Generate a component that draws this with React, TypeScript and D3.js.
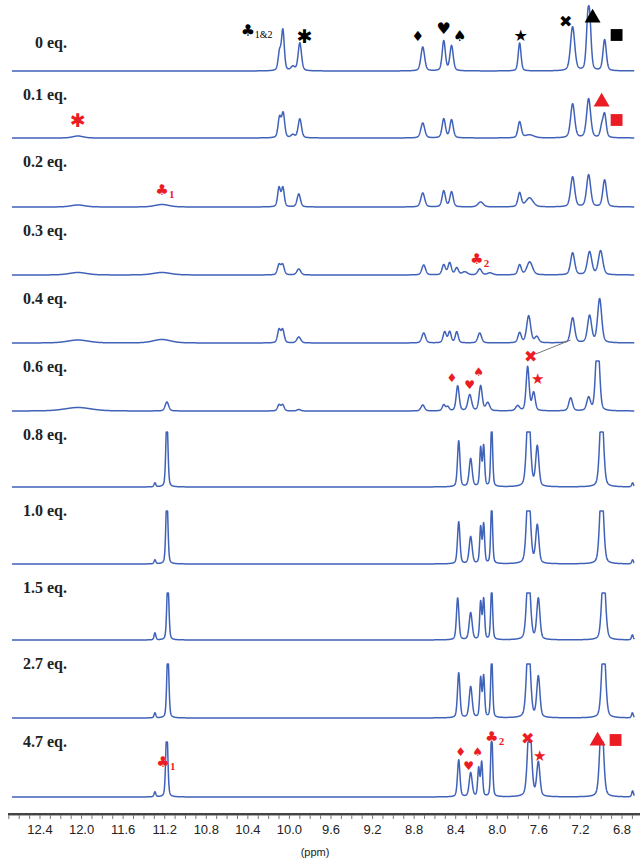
import React from 'react';
import * as d3 from 'd3';

// ---- data ----
const tickValues = [12.4, 12.0, 11.6, 11.2, 10.8, 10.4, 10.0, 9.6, 9.2, 8.8, 8.4, 8.0, 7.6, 7.2, 6.8];
const rowLabels = ['0 eq.', '0.1 eq.', '0.2 eq.', '0.3 eq.', '0.4 eq.', '0.6 eq.', '0.8 eq.', '1.0 eq.', '1.5 eq.', '2.7 eq.', '4.7 eq.'];

type Peak = [number, number, number]; // ppm, height, half width (ppm)
const peaks00: Peak[] = [
  [10.095, 18, 0.016], [10.063, 40, 0.016], [9.967, 4, 0.022], [9.9, 28, 0.019],
  [8.717, 24, 0.021], [8.515, 30, 0.018], [8.44, 25, 0.019], [7.785, 28, 0.016],
  [7.275, 44, 0.024], [7.13, 42, 0.017], [7.11, 42, 0.017], [6.967, 31, 0.019],
];
const peaks01: Peak[] = [
  [12.035, 2, 0.06], [10.095, 20, 0.017], [10.06, 24, 0.017], [9.967, 3, 0.02], [9.9, 19, 0.019],
  [8.717, 15, 0.022], [8.515, 19, 0.019], [8.44, 18, 0.019], [7.785, 16, 0.019], [7.69, 3, 0.05],
  [7.275, 34, 0.023], [7.121, 39, 0.023], [6.967, 23, 0.018], [6.995, 10, 0.017],
];
const peaks02: Peak[] = [
  [12.035, 2, 0.08], [11.227, 2.5, 0.08], [10.1, 19, 0.016], [10.063, 19, 0.016], [9.91, 13, 0.019],
  [8.717, 14, 0.022], [8.515, 16, 0.019], [8.44, 15, 0.019], [8.16, 5, 0.03], [7.785, 14, 0.019],
  [7.69, 9, 0.04], [7.275, 30, 0.023], [7.121, 32, 0.023], [6.967, 27, 0.021],
];
const peaks03: Peak[] = [
  [12.035, 2.5, 0.1], [11.227, 2.5, 0.1], [10.1, 10, 0.018], [10.065, 10, 0.018], [9.91, 6, 0.022],
  [8.708, 10, 0.021], [8.515, 10, 0.019], [8.458, 12, 0.019], [8.39, 7, 0.019], [8.313, 3, 0.03],
  [8.169, 6, 0.022], [8.07, 2, 0.03], [7.785, 10, 0.019], [7.688, 13, 0.032], [7.275, 22, 0.023],
  [7.112, 23, 0.025], [7.006, 24, 0.025],
];
const peaks04: Peak[] = [
  [12.035, 3, 0.12], [11.227, 3.5, 0.1], [10.1, 13, 0.017], [10.065, 13, 0.017], [9.91, 6, 0.022],
  [8.708, 10, 0.021], [8.506, 11, 0.018], [8.458, 11, 0.017], [8.39, 11, 0.017], [8.169, 10, 0.021],
  [7.785, 10, 0.019], [7.698, 27, 0.023], [7.62, 6, 0.022], [7.275, 25, 0.023], [7.112, 27, 0.023],
  [7.015, 44, 0.023],
];
const peaks06: Peak[] = [
  [12.035, 3.5, 0.15], [11.179, 9, 0.02], [10.1, 6, 0.017], [10.065, 6, 0.017], [9.91, 1.5, 0.02],
  [8.717, 6, 0.02], [8.515, 6, 0.017], [8.477, 4, 0.017], [8.381, 25, 0.017], [8.265, 16, 0.021],
  [8.16, 25, 0.018], [8.092, 8, 0.022], [7.804, 5, 0.022], [7.708, 44, 0.017], [7.65, 18, 0.018],
  [7.294, 13, 0.021], [7.121, 13, 0.021], [7.045, 42, 0.018], [7.025, 42, 0.018],
];
const peaks08: Peak[] = [
  [11.294, 4, 0.01], [11.179, 70, 0.012], [8.371, 46, 0.014], [8.256, 28, 0.017], [8.16, 38, 0.011],
  [8.131, 40, 0.011], [8.054, 62, 0.011], [7.7, 80, 0.022], [7.615, 40, 0.018], [6.996, 80, 0.022],
  [6.698, 4, 0.01],
];
const peaks10: Peak[] = [
  [11.294, 4, 0.01], [11.179, 68, 0.012], [8.371, 42, 0.014], [8.256, 27, 0.017], [8.16, 36, 0.011],
  [8.131, 39, 0.011], [8.054, 58, 0.011], [7.7, 80, 0.022], [7.615, 38, 0.018], [6.996, 80, 0.022],
  [6.698, 4, 0.01],
];
const peaks15: Peak[] = [
  [11.294, 7, 0.01], [11.17, 60, 0.012], [8.381, 42, 0.014], [8.256, 27, 0.017], [8.16, 37, 0.011],
  [8.131, 40, 0.011], [8.054, 52, 0.011], [7.7, 70, 0.022], [7.605, 41, 0.018], [6.977, 70, 0.022],
  [6.7, 5, 0.01],
];
const peaks27: Peak[] = [
  [11.294, 5, 0.01], [11.17, 68, 0.012], [8.371, 45, 0.014], [8.256, 31, 0.017], [8.16, 39, 0.011],
  [8.131, 41, 0.011], [8.054, 62, 0.011], [7.7, 80, 0.022], [7.605, 41, 0.018], [6.977, 80, 0.022],
  [6.7, 5, 0.01],
];
const peaks47: Peak[] = [
  [11.294, 5, 0.01], [11.18, 70, 0.012], [8.371, 37, 0.014], [8.256, 24, 0.017], [8.179, 28, 0.011],
  [8.15, 34, 0.011], [8.054, 66, 0.011], [7.69, 80, 0.022], [7.605, 34, 0.018], [6.996, 80, 0.022],
  [6.698, 6, 0.01],
];
const spectra = [peaks00, peaks01, peaks02, peaks03, peaks04, peaks06, peaks08, peaks10, peaks15, peaks27, peaks47];
const rowCeilings = [999, 999, 999, 999, 999, 50, 55, 53, 47, 54, 55];

// annotation marks: glyph, ppm, level above baseline, subscript
type Mark = [string, number, number, string];
const marks00: Mark[] = [
  ['club', 10.4, 41, '1&2'], ['asterisk', 9.852, 35, ''], ['diamond', 8.765, 35, ''],
  ['heart', 8.515, 43, ''], ['spade', 8.362, 35, ''], ['star', 7.775, 36, ''],
  ['cross', 7.342, 50, ''], ['triangle', 7.083, 54, ''], ['square', 6.852, 36, ''],
];
const marks01: Mark[] = [['asterisk', 12.035, 18, ''], ['triangle', 6.996, 37, ''], ['square', 6.852, 18, '']];
const marks02: Mark[] = [['club', 11.227, 17, '1']];
const marks03: Mark[] = [['club', 8.198, 16, '2']];
const marks06: Mark[] = [
  ['diamond', 8.438, 33, ''], ['heart', 8.265, 26, ''], ['spade', 8.179, 39, ''],
  ['cross', 7.679, 55, ''], ['star', 7.612, 32, ''],
];
const marks47: Mark[] = [
  ['club', 11.217, 35, '1'], ['diamond', 8.352, 45, ''], ['heart', 8.275, 31, ''], ['spade', 8.188, 45, ''],
  ['club', 8.054, 60, '2'], ['cross', 7.708, 59, ''], ['star', 7.592, 41, ''],
  ['triangle', 7.035, 57, ''], ['square', 6.862, 57, ''],
];
const markRows: [number, Mark[]][] = [[0, marks00], [1, marks01], [2, marks02], [3, marks03], [5, marks06], [10, marks47]];
// leader line in 0.6 eq. row: [ppm, level] pairs
const leader06: [number, number][] = [[7.63, 57], [7.294, 71]];

// ---- layout ----
const W = 644, H = 859;
const baselines = [71, 138, 207, 275, 343, 411, 487, 564, 640, 718, 797];
const BLUE = '#4062b8';
const RED = '#ec1c24';

const glyphText: Record<string, string> = { club: '\u2663', heart: '\u2665', spade: '\u2660', diamond: '\u2666', star: '\u2605', cross: '\u2716', asterisk: '\u2731' };
const glyphSize: Record<string, number> = { club: 16, heart: 16, spade: 15, diamond: 14, star: 16, cross: 16, asterisk: 19 };
const redGlyphSize: Record<string, number> = { club: 15, heart: 12, spade: 12, diamond: 12, star: 15, cross: 16, asterisk: 19 };

export default function App() {
  const x = d3.scaleLinear().domain([12.4, 6.8]).range([40, 622]);
  const yI = d3.scaleLinear().domain([0, 100]).range([0, 100]);
  const specStart = 12.67, specEnd = 6.68;
  const samples = d3.range(specStart, specEnd, -0.002);

  const shape = (d: number, w: number) => {
    const r = (d / w) * (d / w);
    return 0.35 / (1 + r) + 0.65 * Math.exp(-Math.LN2 * r);
  };

  const paths = spectra.map((peaks, i) => {
    const ceil = rowCeilings[i];
    const pts: [number, number][] = samples.map((p) => {
      let v = 0;
      for (const [c, h, w] of peaks) v += h * shape(p - c, w);
      v = Math.min(v, ceil);
      return [x(p), baselines[i] - yI(v)];
    });
    return d3.line()(pts) || '';
  });

  const axisY = 814;
  const minorTicks = d3.range(127, 66, -1).map((v) => v / 10);

  return (
    <svg width={W} height={H} style={{ position: 'absolute', left: 0, top: 0, background: '#fff' }}>
      <rect width={W} height={H} fill="#fff" />
      {paths.map((d, i) => (
        <path key={i} d={d} fill="none" stroke={BLUE} strokeWidth={1.5} strokeLinejoin="round" />
      ))}
      {rowLabels.map((t, i) => (
        <text key={t} x={67} y={i === 0 ? 42 : baselines[i - 1] + 23} textAnchor="end" dominantBaseline="central"
          fontFamily="Liberation Serif" fontWeight="bold" fontSize={16} fill="#222">{t}</text>
      ))}
      {markRows.map(([ri, marks]) =>
        marks.map((m, j) => {
          const [g, ppm, lvl, sub] = m;
          const cx = x(ppm), cy = baselines[ri] - yI(lvl);
          const col = ri === 0 ? '#000' : RED;
          const size = ri === 0 ? glyphSize[g] : redGlyphSize[g];
          let el: React.ReactNode;
          if (g === 'triangle') {
            el = <path d={d3.symbol(d3.symbolTriangle, 110)() || ''} transform={`translate(${cx},${cy + 1})`} fill={col} />;
          } else if (g === 'square') {
            el = <path d={d3.symbol(d3.symbolSquare, 140)() || ''} transform={`translate(${cx},${cy})`} fill={col} />;
          } else {
            el = <text x={cx} y={cy} textAnchor="middle" dominantBaseline="central" fontFamily="DejaVu Sans"
              fontSize={size} fontWeight="bold" fill={col}>{glyphText[g]}</text>;
          }
          return (
            <g key={`${ri}-${j}`}>
              {el}
              {sub && (
                <text x={cx + 7} y={cy + 4} dominantBaseline="central" fontFamily="Liberation Serif"
                  fontSize={sub.length > 1 ? 10 : 11} fontWeight={ri === 0 ? 'normal' : 'bold'} fill={col}>{sub}</text>
              )}
            </g>
          );
        })
      )}
      <line x1={x(leader06[0][0])} y1={baselines[5] - yI(leader06[0][1])} x2={x(leader06[1][0])} y2={baselines[5] - yI(leader06[1][1])}
        stroke="#777" strokeWidth={1} />
      {/* axis */}
      <line x1={8} x2={640} y1={axisY} y2={axisY} stroke="#444" strokeWidth={2} />
      <line x1={8} x2={640} y1={axisY + 1.5} y2={axisY + 1.5} stroke="#aaa" strokeWidth={1} />
      {minorTicks.map((v) => (
        <line key={v} x1={x(v)} x2={x(v)} y1={axisY + 1} y2={axisY + 5} stroke="#777" strokeWidth={1} />
      ))}
      {tickValues.map((v) => (
        <text key={v} x={x(v)} y={829} textAnchor="middle" dominantBaseline="central" fontFamily="Liberation Sans"
          fontSize={13} fill="#222">{v.toFixed(1)}</text>
      ))}
      <text x={315} y={852} textAnchor="middle" dominantBaseline="central" fontFamily="Liberation Sans" fontSize={11} fill="#222">(ppm)</text>
    </svg>
  );
}
